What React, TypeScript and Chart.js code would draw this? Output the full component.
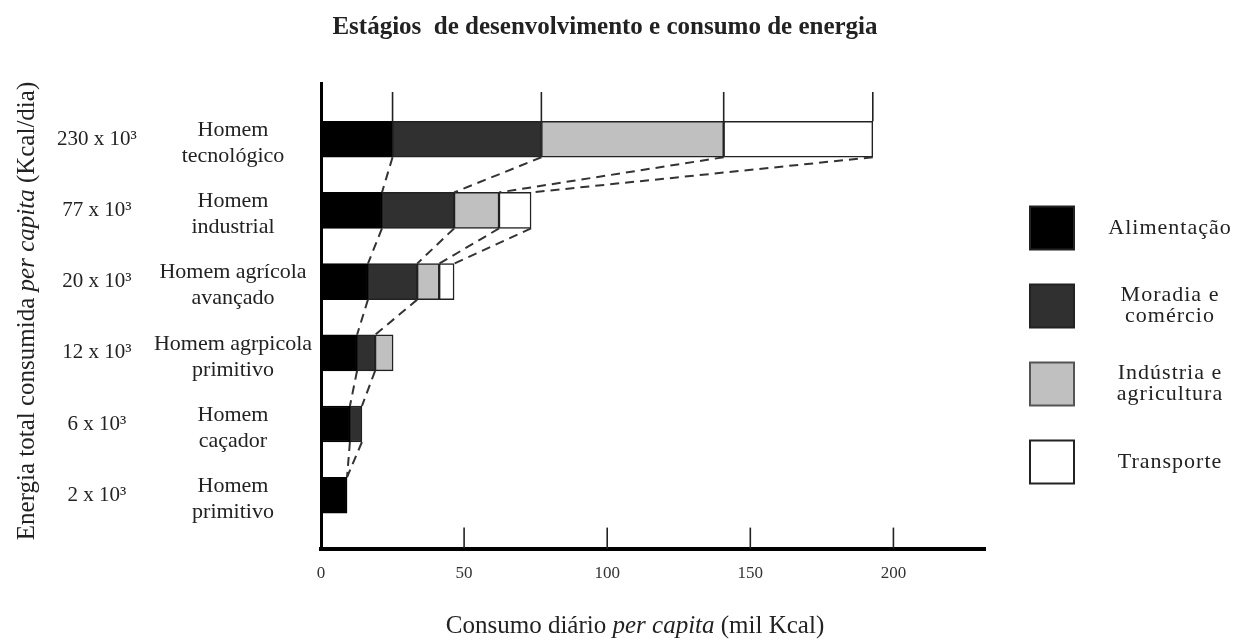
import React, { useEffect, useRef } from 'react';
import { Chart, registerables } from 'chart.js';

Chart.register(...registerables);

// ---- data (top bar first) ----
const stageNames: string[][] = [
  ['Homem', 'tecnológico'],
  ['Homem', 'industrial'],
  ['Homem agrícola', 'avançado'],
  ['Homem agrpicola', 'primitivo'],
  ['Homem', 'caçador'],
  ['Homem', 'primitivo'],
];
const totalLabels: string[] = ['230 x 10³', '77 x 10³', '20 x 10³', '12 x 10³', '6 x 10³', '2 x 10³'];

const alimentacao: (number | null)[] = [25, 21.3, 16.4, 12.6, 10.1, 9.1];
const moradia: (number | null)[] = [52, 25.2, 17.2, 6.3, 4.2, null];
const industria: (number | null)[] = [63.7, 15.7, 7.7, 6.3, null, null];
const transporte: (number | null)[] = [52.1, 11.2, 5.2, null, null, null];

const seriesNames: string[] = ['Alimentação', 'Moradia e comércio', 'Indústria e agricultura', 'Transporte'];
const legendLines: string[][] = [['Alimentação'], ['Moradia e', 'comércio'], ['Indústria e', 'agricultura'], ['Transporte']];
const seriesColors: string[] = ['#000000', '#303030', '#c0c0c0', '#ffffff'];
const xTickValues: number[] = [0, 50, 100, 150, 200];

// dashed connectors: [upper bar, upper segment end, lower bar, lower segment end]
const connectors: number[][] = [
  [0, 0, 1, 0], [0, 1, 1, 1], [0, 2, 1, 2], [0, 3, 1, 3],
  [1, 0, 2, 0], [1, 1, 2, 1], [1, 2, 2, 2], [1, 3, 2, 3],
  [2, 0, 3, 0], [2, 1, 3, 1],
  [3, 0, 4, 0], [3, 1, 4, 1],
  [4, 0, 5, 0], [4, 1, 5, 0],
];

const titleText = 'Estágios  de desenvolvimento e consumo de energia';
const yTitleParts = [
  { text: 'Energia total consumida ', italic: false },
  { text: 'per capita', italic: true },
  { text: ' (Kcal/dia)', italic: false },
];
const xTitleParts = [
  { text: 'Consumo diário ', italic: false },
  { text: 'per capita', italic: true },
  { text: ' (mil Kcal)', italic: false },
];

const series = [alimentacao, moradia, industria, transporte];
const FONT = '"Liberation Serif", "DejaVu Serif", serif';
const TEXT = '#222222';

function drawMixed(ctx: CanvasRenderingContext2D, parts: { text: string; italic: boolean }[], size: number, cx: number, cy: number, rotate: boolean) {
  ctx.save();
  ctx.translate(cx, cy);
  if (rotate) ctx.rotate(-Math.PI / 2);
  let total = 0;
  parts.forEach((p) => {
    ctx.font = `${p.italic ? 'italic ' : ''}${size}px ${FONT}`;
    total += ctx.measureText(p.text).width;
  });
  let x = -total / 2;
  ctx.textBaseline = 'middle';
  ctx.textAlign = 'left';
  ctx.fillStyle = TEXT;
  parts.forEach((p) => {
    ctx.font = `${p.italic ? 'italic ' : ''}${size}px ${FONT}`;
    ctx.fillText(p.text, x, 0);
    x += ctx.measureText(p.text).width;
  });
  ctx.restore();
}

const decorPlugin = {
  id: 'decor',
  afterDatasetsDraw(chart: any) {
    const ctx: CanvasRenderingContext2D = chart.ctx;
    const xs = chart.scales.x;
    const area = chart.chartArea;
    const meta0 = chart.getDatasetMeta(0);
    const cum = (bar: number, k: number) => {
      let s = 0;
      for (let j = 0; j <= k; j++) s += series[j][bar] ?? 0;
      return s;
    };
    const barTop = (i: number) => {
      const p = meta0.data[i].getProps(['y', 'height'], true);
      return p.y - p.height / 2;
    };
    const barBottom = (i: number) => {
      const p = meta0.data[i].getProps(['y', 'height'], true);
      return p.y + p.height / 2;
    };

    ctx.save();
    // tall lines above the top bar
    ctx.strokeStyle = '#222';
    ctx.lineWidth = 1.6;
    for (let k = 0; k < 4; k++) {
      if (series[k][0] == null) continue;
      const x = xs.getPixelForValue(cum(0, k));
      ctx.beginPath();
      ctx.moveTo(x, area.top + 9);
      ctx.lineTo(x, barTop(0));
      ctx.stroke();
    }
    // dashed connectors
    ctx.strokeStyle = '#333';
    ctx.lineWidth = 2;
    ctx.setLineDash([9, 6]);
    connectors.forEach(([ub, uk, lb, lk]) => {
      const x1 = xs.getPixelForValue(cum(ub, uk));
      const x2 = xs.getPixelForValue(cum(lb, lk));
      ctx.beginPath();
      ctx.moveTo(x1, barBottom(ub));
      ctx.lineTo(x2, barTop(lb));
      ctx.stroke();
    });
    ctx.setLineDash([]);
    // short tick marks inside the plot
    ctx.strokeStyle = '#222';
    ctx.lineWidth = 1.6;
    xs.ticks.forEach((t: any) => {
      if (t.value <= 0) return;
      const x = xs.getPixelForValue(t.value);
      ctx.beginPath();
      ctx.moveTo(x, area.bottom - 21);
      ctx.lineTo(x, area.bottom);
      ctx.stroke();
    });
    ctx.restore();
  },
  afterDraw(chart: any) {
    const ctx: CanvasRenderingContext2D = chart.ctx;
    const ys = chart.scales.y;
    const area = chart.chartArea;
    ctx.save();
    ctx.fillStyle = TEXT;
    ctx.textAlign = 'center';
    ctx.textBaseline = 'middle';
    // category labels
    stageNames.forEach((lines, i) => {
      const cy = ys.getPixelForValue(i);
      ctx.font = `21px ${FONT}`;
      ctx.fillText(totalLabels[i], area.left - 224, cy);
      ctx.font = `22px ${FONT}`;
      const lh = 26;
      const start = cy + 4 - ((lines.length - 1) * lh) / 2;
      lines.forEach((l, j) => ctx.fillText(l, area.left - 88, start + j * lh));
    });
    // title
    ctx.font = `bold 25px ${FONT}`;
    ctx.fillText(titleText, 605, 28);
    ctx.restore();

    drawMixed(ctx, yTitleParts, 25, 27, 311, true);
    drawMixed(ctx, xTitleParts, 25, 635, 626, false);

    // legend
    ctx.save();
    const boxL = area.right + 45;
    legendLines.forEach((lines, i) => {
      const cy = 228 + i * 78;
      ctx.fillStyle = seriesColors[i];
      ctx.fillRect(boxL, cy - 21.5, 44, 43);
      ctx.strokeStyle = i === 2 ? '#555' : '#222';
      ctx.lineWidth = 2;
      ctx.strokeRect(boxL, cy - 21.5, 44, 43);
      ctx.fillStyle = TEXT;
      ctx.font = `22px ${FONT}`;
      (ctx as any).letterSpacing = '1px';
      ctx.textAlign = 'center';
      ctx.textBaseline = 'middle';
      const lh = 21;
      const start = cy - ((lines.length - 1) * lh) / 2;
      lines.forEach((l, j) => ctx.fillText(l, 1170, start + j * lh));
    });
    ctx.restore();
  },
};

export default function App() {
  const ref = useRef<HTMLCanvasElement | null>(null);
  useEffect(() => {
    if (!ref.current) return;
    const toPoints = (arr: (number | null)[]) =>
      arr.map((v, i) => (v == null ? null : { x: v, y: i })).filter((p) => p !== null) as { x: number; y: number }[];
    const chart = new Chart(ref.current, {
      type: 'bar',
      data: {
        datasets: series.map((s, k) => ({
          label: seriesNames[k],
          data: toPoints(s),
          backgroundColor: seriesColors[k],
          borderColor: k === 0 ? '#000' : '#222',
          borderWidth: 1.5,
          borderSkipped: false,
          barThickness: 36,
        })),
      } as any,
      options: {
        indexAxis: 'y',
        animation: false,
        responsive: true,
        maintainAspectRatio: false,
        layout: { padding: { left: 321, right: 255, top: 83, bottom: 42 } },
        plugins: { legend: { display: false }, tooltip: { enabled: false }, title: { display: false } },
        scales: {
          x: {
            type: 'linear',
            stacked: true,
            min: 0,
            max: 232,
            bounds: 'data',
            offset: false,
            afterBuildTicks: (axis: any) => {
              axis.ticks = xTickValues.map((v) => ({ value: v }));
            },
            grid: { display: false, drawTicks: false },
            border: { display: true, color: '#000', width: 4 },
            ticks: { color: '#333', font: { family: FONT, size: 17 }, padding: 15, maxRotation: 0 },
          },
          y: {
            type: 'linear',
            stacked: true,
            reverse: true,
            min: -0.79,
            max: 5.75,
            bounds: 'data',
            offset: false,
            grid: { display: false, drawTicks: false, offset: false },
            border: { display: true, color: '#000', width: 3 },
            ticks: { display: false },
          },
        },
      } as any,
      plugins: [decorPlugin],
    });
    return () => chart.destroy();
  }, []);
  return (
    <div style={{ position: 'absolute', left: 0, top: 0, width: 1240, height: 641, background: '#fff' }}>
      <canvas ref={ref} />
    </div>
  );
}
